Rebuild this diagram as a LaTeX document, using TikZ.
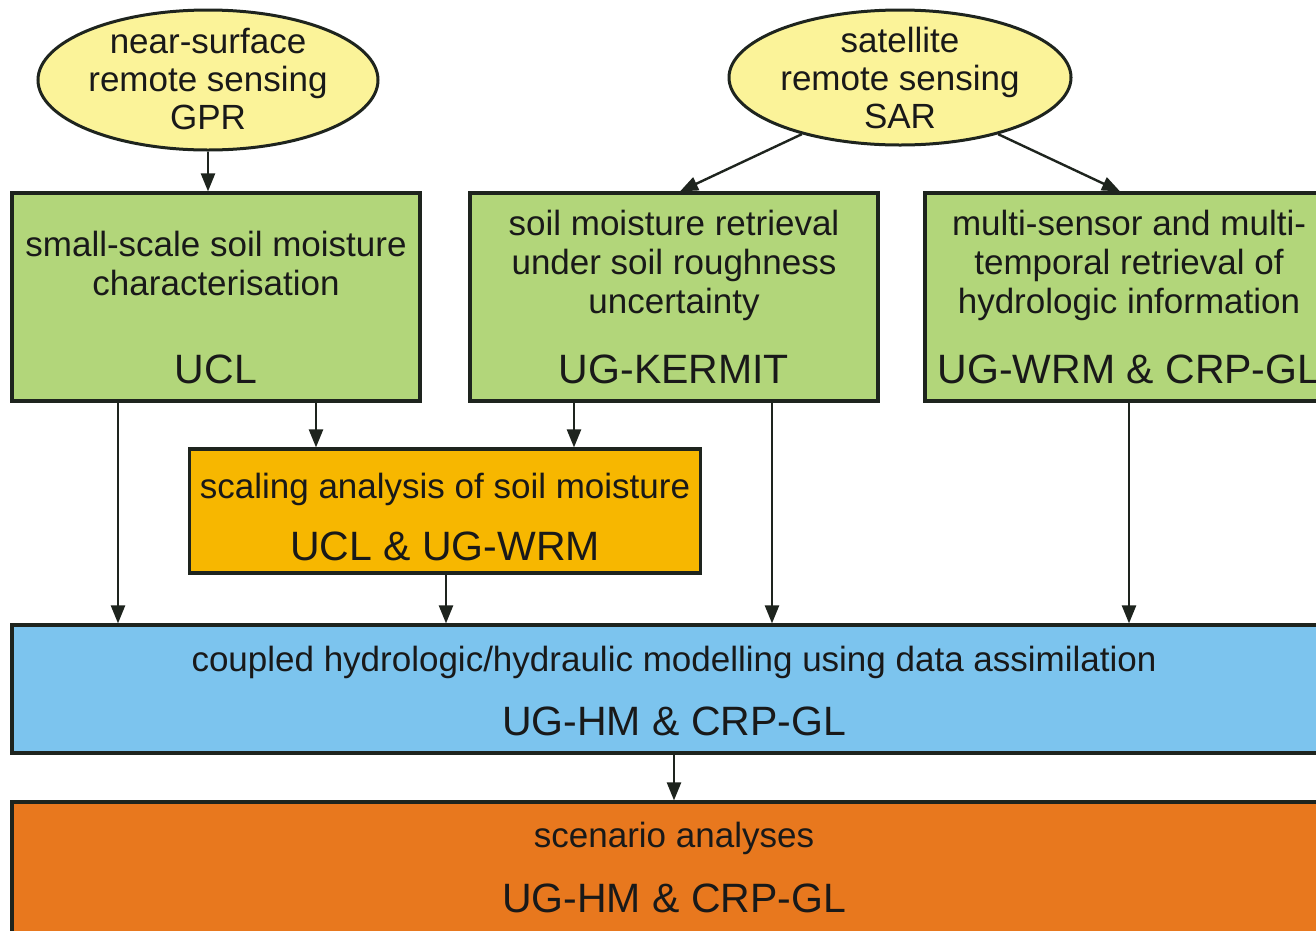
\documentclass[tikz,border=0pt]{standalone}
\usepackage{fontspec}
\setmainfont{Liberation Sans}
\usetikzlibrary{arrows.meta,shapes.geometric}
\definecolor{ellfill}{RGB}{251,243,153}
\definecolor{greenfill}{RGB}{178,214,122}
\definecolor{goldfill}{RGB}{247,183,0}
\definecolor{bluefill}{RGB}{124,196,238}
\definecolor{orangefill}{RGB}{232,120,30}
\definecolor{edge}{RGB}{30,36,30}
\definecolor{ink}{RGB}{25,25,25}
\begin{document}
\begin{tikzpicture}[x=1pt,y=-1pt,
  ell/.style={ellipse,draw=edge,line width=3pt,fill=ellfill,inner sep=0pt},
  boxnode/.style={rectangle,draw=edge,line width=3.2pt,inner sep=0pt},
  txt/.style={anchor=base,inner sep=0pt,text=ink,font=\fontsize{35}{39}\selectfont},
  lbl/.style={anchor=base,inner sep=0pt,text=ink,font=\fontsize{41}{45}\selectfont},
  arr/.style={draw=edge,line width=2.4pt,-{Triangle[length=18pt,width=14pt]}}]
\useasboundingbox (0,0) rectangle (1316,930);
\clip (0,0) rectangle (1316,930);
\fill[white] (0,0) rectangle (1316,930);

% ellipses
\node[ell,minimum width=340pt,minimum height=140pt] (e1) at (208,80) {};
\node[ell,minimum width=342pt,minimum height=135pt] (e2) at (900,77.5) {};
\node[txt] (e1a) at (208,53) {near-surface};
\node[txt] (e1b) at (208,91) {remote sensing};
\node[txt] (e1c) at (208,129) {GPR};
\node[txt] (e2a) at (900,52) {satellite};
\node[txt] (e2b) at (900,90) {remote sensing};
\node[txt] (e2c) at (900,128) {SAR};

% green boxes
\node[boxnode,fill=greenfill,minimum width=408pt,minimum height=208pt] (b1) at (216,297) {};
\node[boxnode,fill=greenfill,minimum width=408pt,minimum height=208pt] (b2) at (674,297) {};
\node[boxnode,fill=greenfill,minimum width=408pt,minimum height=208pt] (b3) at (1129,297) {};
\node[txt] (b1a) at (216,256) {small-scale soil moisture};
\node[txt] (b1b) at (216,295) {characterisation};
\node[lbl] (b1c) at (216,383) {UCL};
\node[txt] (b2a) at (674,235) {soil moisture retrieval};
\node[txt] (b2b) at (674,274) {under soil roughness};
\node[txt] (b2c) at (674,313) {uncertainty};
\node[lbl] (b2d) at (674,383) {UG-KERMIT};
\node[txt] (b3a) at (1129,235) {multi-sensor and multi-};
\node[txt] (b3b) at (1129,274) {temporal retrieval of};
\node[txt] (b3c) at (1129,313) {hydrologic information};
\node[lbl] (b3d) at (1129,383) {UG-WRM \& CRP-GL};

% scaling box
\node[boxnode,fill=goldfill,minimum width=511pt,minimum height=124pt] (sc) at (445,511) {};
\node[txt] (sca) at (445,498) {scaling analysis of soil moisture};
\node[lbl] (scb) at (445,560) {UCL \& UG-WRM};

% blue box
\node[boxnode,fill=bluefill,minimum width=1324pt,minimum height=128pt] (bl) at (674,689) {};
\node[txt] (bla) at (674,671) {coupled hydrologic/hydraulic modelling using data assimilation};
\node[lbl] (blb) at (674,735) {UG-HM \& CRP-GL};

% orange box
\node[boxnode,fill=orangefill,minimum width=1324pt,minimum height=140pt] (or) at (674,872) {};
\node[txt] (ora) at (674,847) {scenario analyses};
\node[lbl] (orb) at (674,912) {UG-HM \& CRP-GL};

% connectors
\draw[arr] (e1.south) -- ([xshift=-8pt]b1.north);
\draw[arr] (e2.210) -- ([xshift=6pt]b2.north);
\draw[arr] (e2.-30) -- ([xshift=-9pt]b3.north);
\draw[arr] ([xshift=-98pt]b1.south) -- ([xshift=-556pt]bl.north);
\draw[arr] ([xshift=100pt]b1.south) -- ([xshift=-129pt]sc.north);
\draw[arr] ([xshift=-100pt]b2.south) -- ([xshift=129pt]sc.north);
\draw[arr] ([xshift=98pt]b2.south) -- ([xshift=98pt]bl.north);
\draw[arr] (b3.south) -- ([xshift=455pt]bl.north);
\draw[arr] ([xshift=1pt]sc.south) -- ([xshift=-228pt]bl.north);
\draw[arr] (bl.south) -- (or.north);
\end{tikzpicture}
\end{document}
